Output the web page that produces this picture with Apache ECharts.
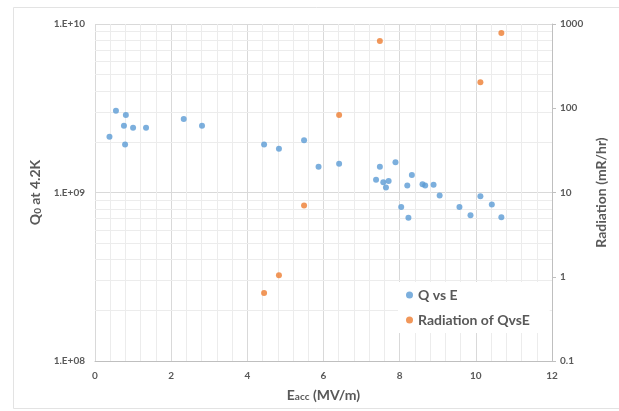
<!DOCTYPE html>
<html>
<head>
<meta charset="utf-8">
<script src="https://cdn.jsdelivr.net/npm/echarts@6/dist/echarts.min.js"></script>
<style>
  html, body { margin: 0; padding: 0; background: #fff; }
  #chart { width: 619px; height: 411px; }
</style>
</head>
<body>
<div id="chart"></div>
<script>
// Q vs E
var qE = [0.38, 0.55, 0.81, 0.76, 1.0, 0.79, 1.34, 2.33, 2.81, 4.44, 4.83, 5.49, 5.87, 6.41,
          7.38, 7.48, 7.57, 7.71, 7.64, 7.89, 8.04, 8.20, 8.32, 8.23, 8.60, 8.67, 8.89, 9.05,
          9.57, 9.86, 10.12, 10.42, 10.67];
var qVal = [2.14e9, 3.06e9, 2.88e9, 2.49e9, 2.42e9, 1.93e9, 2.42e9, 2.73e9, 2.49e9, 1.93e9, 1.82e9, 2.04e9, 1.42e9, 1.48e9,
            1.19e9, 1.42e9, 1.15e9, 1.17e9, 1.07e9, 1.51e9, 8.2e8, 1.10e9, 1.27e9, 7.08e8, 1.12e9, 1.10e9, 1.11e9, 9.6e8,
            8.2e8, 7.33e8, 9.5e8, 8.5e8, 7.13e8];
// radiation (mR/hr)
var radE = [7.48, 10.67, 10.12, 6.41, 5.49, 4.83, 4.44];
var radVal = [628, 782, 203, 83, 7.0, 1.04, 0.64];

var xTicks = [0, 2, 4, 6, 8, 10, 12];
var qMinorLines = [2e8, 3e8, 4e8, 5e8, 6e8, 7e8, 8e8, 9e8, 2e9, 3e9, 4e9, 5e9, 6e9, 7e9, 8e9, 9e9];

var txt = '#595959';
var font = 'Lato, "Open Sans", sans-serif';

var chart = echarts.init(document.getElementById('chart'), null, {renderer: 'canvas'});

function zip(a, b) {
    return a.map(function (v, i) { return [v, b[i]]; });
}

var option = {
    animation: false,
    textStyle: { fontFamily: font },
    graphic: [{
        type: 'rect',
        shape: { x: 13.5, y: 7.5, width: 620, height: 401 },
        style: { fill: 'none', stroke: '#e3e3e3', lineWidth: 1 },
        silent: true
    }],
    grid: { left: 95, right: 67, top: 24, bottom: 50 },
    legend: {
        orient: 'vertical',
        left: 398,
        top: 282,
        backgroundColor: '#fff',
        padding: [6, 20, 6, 8],
        itemWidth: 7,
        itemHeight: 7,
        itemGap: 11,
        icon: 'circle',
        textStyle: { color: txt, fontSize: 14, fontWeight: 'bold', fontFamily: font },
        data: ['Q vs E', 'Radiation of QvsE']
    },
    xAxis: {
        type: 'value',
        min: xTicks[0],
        max: xTicks[xTicks.length - 1],
        interval: 2,
        name: 'E{sub|acc} (MV/m)',
        nameLocation: 'middle',
        nameGap: 27,
        nameTextStyle: {
            color: txt, fontSize: 14, fontWeight: 'bold', fontFamily: font,
            rich: { sub: { fontSize: 10, fontWeight: 'bold', color: txt, fontFamily: font, padding: [4, 0, 0, 0] } }
        },
        axisLine: { show: true, lineStyle: { color: '#bfbfbf' } },
        axisTick: { show: false },
        axisLabel: { color: txt, fontSize: 10, fontWeight: 'bold', margin: 10 },
        splitLine: { show: true, lineStyle: { color: '#d9d9d9' } },
        minorTick: { show: false, splitNumber: 5 },
        minorSplitLine: { show: true, lineStyle: { color: '#ececec' } }
    },
    yAxis: [{
        type: 'log',
        logBase: 10,
        min: 1e8,
        max: 1e10,
        splitNumber: 2,
        position: 'left',
        name: 'Q{sub|0} at 4.2K',
        nameLocation: 'middle',
        nameRotate: 90,
        nameGap: 52,
        nameTextStyle: {
            color: txt, fontSize: 14, fontWeight: 'bold', fontFamily: font,
            rich: { sub: { fontSize: 10, fontWeight: 'bold', color: txt, fontFamily: font, padding: [4, 0, 0, 0] } }
        },
        axisLine: { show: false },
        axisTick: { show: false },
        axisLabel: {
            color: txt, fontSize: 10, fontWeight: 'bold', margin: 10,
            formatter: function (v) {
                var e = Math.round(Math.log10(v));
                return '1.E+' + (e < 10 ? '0' + e : e);
            }
        },
        splitLine: { show: true, lineStyle: { color: '#d9d9d9' } }
    }, {
        type: 'log',
        logBase: 10,
        min: 0.1,
        max: 1000,
        splitNumber: 4,
        position: 'right',
        name: 'Radiation (mR/hr)',
        nameLocation: 'middle',
        nameRotate: 90,
        nameGap: 42,
        nameTextStyle: { color: txt, fontSize: 14, fontWeight: 'bold', fontFamily: font },
        axisLine: { show: true, lineStyle: { color: '#bfbfbf' } },
        axisTick: { show: true, length: 4, lineStyle: { color: '#bfbfbf' } },
        axisLabel: {
            color: txt, fontSize: 10, fontWeight: 'bold', margin: 8,
            formatter: function (v) { return String(+v.toPrecision(3)); }
        },
        splitLine: { show: false }
    }],
    series: [{
        name: 'Q vs E',
        type: 'scatter',
        yAxisIndex: 0,
        symbol: 'circle',
        symbolSize: 6,
        itemStyle: { color: '#5b9bd5' },
        data: zip(qE, qVal),
        markLine: {
            silent: true,
            symbol: 'none',
            label: { show: false },
            lineStyle: { color: '#ececec', type: 'solid', width: 1 },
            data: qMinorLines.map(function (v) { return { yAxis: v }; }),
            z: 0
        },
        z: 3
    }, {
        name: 'Radiation of QvsE',
        type: 'scatter',
        yAxisIndex: 1,
        symbol: 'circle',
        symbolSize: 6,
        itemStyle: { color: '#ed7d31' },
        data: zip(radE, radVal),
        z: 3
    }]
};

chart.setOption(option);
</script>
</body>
</html>
